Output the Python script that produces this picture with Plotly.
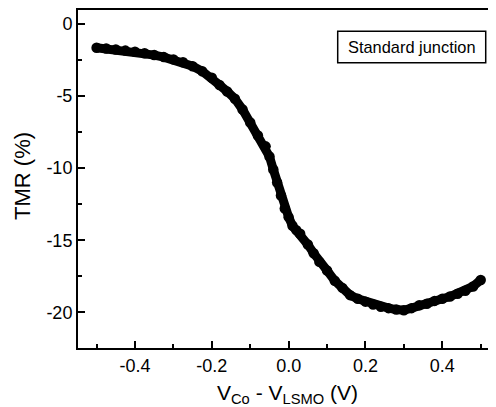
import plotly.graph_objects as go

# Bias voltage V_Co - V_LSMO (V)
voltage = [-0.500, -0.475, -0.450, -0.425, -0.400, -0.375, -0.350, -0.325, -0.300,
           -0.275, -0.250, -0.225, -0.200, -0.180, -0.160, -0.140, -0.120, -0.100,
           -0.080, -0.060, -0.050, -0.040, -0.030, -0.020, -0.010, 0.000, 0.010,
           0.020, 0.030, 0.050, 0.065, 0.080, 0.100, 0.120, 0.140, 0.160, 0.180,
           0.200, 0.220, 0.240, 0.260, 0.280, 0.300, 0.320, 0.340, 0.360, 0.380,
           0.400, 0.420, 0.440, 0.460, 0.480, 0.500]
# TMR (%)
tmr = [-1.67, -1.73, -1.80, -1.87, -1.95, -2.06, -2.18, -2.32, -2.48,
       -2.68, -2.95, -3.30, -3.75, -4.25, -4.70, -5.20, -5.95, -6.85,
       -7.75, -8.50, -9.20, -10.10, -11.00, -11.90, -12.80, -13.40, -14.00,
       -14.30, -14.55, -15.30, -15.90, -16.50, -17.10, -17.80, -18.30, -18.80, -19.05,
       -19.25, -19.45, -19.60, -19.70, -19.80, -19.85, -19.70, -19.50, -19.40, -19.20,
       -19.05, -18.90, -18.70, -18.50, -18.20, -17.75]

x_ticks = [-0.4, -0.2, 0.0, 0.2, 0.4]
x_tick_labels = ["-0.4", "-0.2", "0.0", "0.2", "0.4"]
y_ticks = [0, -5, -10, -15, -20]
y_tick_labels = ["0", "-5", "-10", "-15", "-20"]

legend_label = "Standard junction"
x_title = "V<sub>Co</sub> - V<sub>LSMO</sub> (V)"
y_title = "TMR (%)"

FONT = "Liberation Sans, Arial, Helvetica, sans-serif"

fig = go.Figure()
fig.add_trace(go.Scatter(
    x=voltage, y=tmr, mode="lines+markers",
    line=dict(color="black", width=9),
    marker=dict(color="black", size=10.5),
    hoverinfo="skip", showlegend=False,
))

axis_common = dict(
    showline=True, linecolor="black", linewidth=2,
    ticks="inside", ticklen=7, tickwidth=1.5, tickcolor="black",
    showgrid=False, zeroline=False,
    tickfont=dict(family=FONT, size=18, color="black"),
)

fig.update_xaxes(
    range=[-0.5484, 0.5398], tickvals=x_ticks, ticktext=x_tick_labels,
    mirror=True,
    minor=dict(ticks="inside", ticklen=4, tickwidth=1.5, tickcolor="black", dtick=0.1, tick0=-0.5),
    **axis_common,
)
fig.update_yaxes(
    range=[-22.46, 0.94], tickvals=y_ticks, ticktext=y_tick_labels,
    minor=dict(ticks="inside", ticklen=4, tickwidth=1.5, tickcolor="black", dtick=2.5, tick0=-2.5),
    **axis_common,
)

# legend box
fig.add_shape(type="rect", xref="paper", yref="paper",
              x0=0.6213, x1=0.9754, y0=0.844, y1=0.9374,
              line=dict(color="black", width=1.5), fillcolor="white")
fig.add_annotation(text=legend_label, xref="paper", yref="paper",
                   x=0.798, y=0.8907, showarrow=False,
                   xanchor="center", yanchor="middle",
                   font=dict(family=FONT, size=16.4, color="black"))

# axis titles
fig.add_annotation(text=x_title, xref="paper", yref="paper",
                   x=0.502, y=-0.135, showarrow=False,
                   xanchor="center", yanchor="middle",
                   font=dict(family=FONT, size=21, color="black"))
fig.add_annotation(text=y_title, xref="paper", yref="paper",
                   x=-0.1316, y=0.509, showarrow=False, textangle=-90,
                   xanchor="center", yanchor="middle",
                   font=dict(family=FONT, size=22, color="black"))

fig.update_layout(
    width=488, height=399,
    margin=dict(l=70, r=0, t=0, b=59),
    paper_bgcolor="white", plot_bgcolor="white",
    hovermode=False,
)

fig.write_html("out.html", config={"displayModeBar": False})
